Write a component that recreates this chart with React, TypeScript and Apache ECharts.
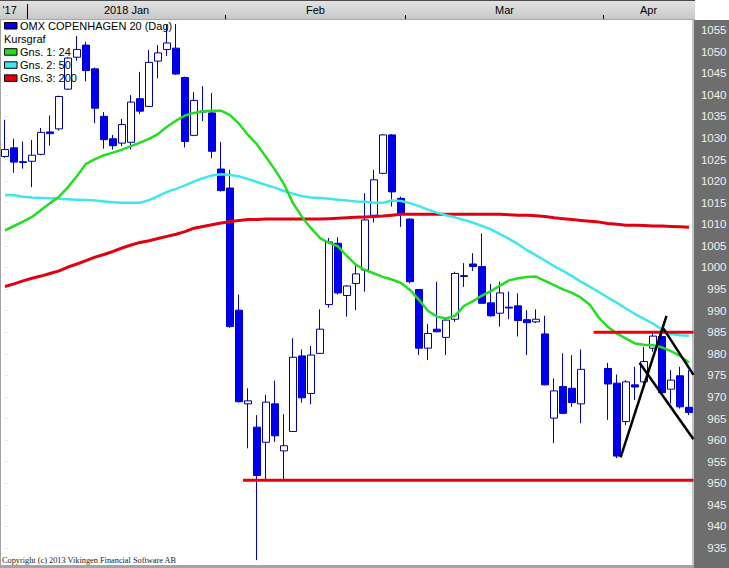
import React, { useEffect, useRef } from 'react';
import * as echarts from 'echarts';

const dates = [
  '2017-12-27','2017-12-28','2017-12-29',
  '2018-01-02','2018-01-03','2018-01-04','2018-01-05','2018-01-08','2018-01-09','2018-01-10','2018-01-11','2018-01-12',
  '2018-01-15','2018-01-16','2018-01-17','2018-01-18','2018-01-19','2018-01-22','2018-01-23','2018-01-24','2018-01-25',
  '2018-01-26','2018-01-29','2018-01-30','2018-01-31',
  '2018-02-01','2018-02-02','2018-02-05','2018-02-06','2018-02-07','2018-02-08','2018-02-09','2018-02-12','2018-02-13',
  '2018-02-14','2018-02-15','2018-02-16','2018-02-19','2018-02-20','2018-02-21','2018-02-22','2018-02-23','2018-02-26',
  '2018-02-27','2018-02-28',
  '2018-03-01','2018-03-02','2018-03-05','2018-03-06','2018-03-07','2018-03-08','2018-03-09','2018-03-12','2018-03-13',
  '2018-03-14','2018-03-15','2018-03-16','2018-03-19','2018-03-20','2018-03-21','2018-03-22','2018-03-23','2018-03-26',
  '2018-03-27','2018-03-28','2018-03-29','2018-03-30',
  '2018-04-03','2018-04-04','2018-04-05','2018-04-06','2018-04-09','2018-04-10','2018-04-11','2018-04-12','2018-04-13',
  '2018-04-16',
];

const opens = [
  1025.7, 1027.7, 1024.5, 1024.6, 1026.2, 1031.4, 1032.1, 1041.3, 1048.7, 1051.5,
  1046.0, 1035.0, 1029.8, 1028.8, 1029.0, 1039.1, 1037.3, 1047.8, 1050.5, 1050.8,
  1044.0, 1030.6, 1036.2, 1035.8, 1022.8, 1018.4, 990.1, 968.4, 963.0, 959.5,
  968.4, 957.5, 962.0, 979.5, 970.8, 980.1, 991.4, 1005.6, 993.5, 996.3,
  999.4, 1012.1, 1021.8, 1030.7, 1016.0, 1011.2, 994.9, 981.3, 985.7, 983.8,
  988.0, 997.9, 1000.8, 1000.2, 991.8, 989.4, 990.8, 991.1, 987.9, 987.4,
  984.6, 965.1, 972.4, 972.0, 968.4, null, null, 976.6, 973.2, 964.3,
  972.8, 973.5, 981.3, 984.0, 971.8, 974.9, 967.6,
];
const closes = [
  1027.3, 1024.4, 1024.3, 1026.0, 1031.3, 1031.0, 1039.6, 1048.5, 1050.5, 1045.6,
  1036.9, 1029.6, 1028.2, 1033.1, 1038.3, 1036.2, 1047.5, 1049.7, 1052.0, 1044.8,
  1029.2, 1038.7, 1036.0, 1026.9, 1017.8, 986.3, 968.9, 969.1, 951.8, 968.8,
  961.0, 958.7, 979.2, 969.8, 979.7, 985.7, 1005.9, 994.1, 995.7, 998.5,
  1011.0, 1020.3, 1030.7, 1017.5, 1012.5, 996.7, 981.3, 984.7, 985.1, 987.8,
  998.6, 998.1, 1000.2, 991.7, 988.8, 994.1, 990.6, 987.7, 987.2, 988.0,
  972.8, 971.4, 966.2, 968.7, 976.4, null, null, 973.0, 956.3, 973.5,
  972.3, 978.2, 984.1, 971.0, 973.9, 967.7, 966.4,
];
const lows = [
  1025.4, 1021.9, 1022.9, 1018.6, 1026.0, 1028.2, 1031.7, 1041.1, 1047.9, 1043.1,
  1033.4, 1027.5, 1027.3, 1028.1, 1027.3, 1035.5, 1037.2, 1043.8, 1049.0, 1044.6,
  1027.8, 1030.4, 1033.9, 1025.3, 1017.6, 986.0, 968.7, 958.1, 932.2, 950.8,
  959.6, 950.8, 962.0, 968.7, 968.3, 980.0, 990.7, 993.7, 988.6, 990.1,
  994.4, 1010.4, 1021.6, 1014.1, 1009.4, 996.3, 979.7, 978.6, 985.0, 979.7,
  987.4, 995.5, 999.2, 991.6, 988.6, 986.3, 988.0, 984.0, 979.7, 987.1,
  972.7, 959.3, 966.0, 967.7, 963.9, null, null, 964.7, 955.8, 963.5,
  969.3, 972.4, 980.5, 970.5, 968.5, 967.3, 965.8,
];
const highs = [
  1034.2, 1029.8, 1029.2, 1029.5, 1032.3, 1035.2, 1039.8, 1048.7, 1053.6, 1052.3,
  1046.3, 1036.0, 1030.7, 1034.4, 1039.9, 1045.3, 1050.4, 1051.5, 1056.2, 1056.4,
  1044.2, 1040.6, 1042.0, 1040.4, 1029.1, 1022.6, 993.7, 972.0, 965.8, 970.5,
  973.8, 966.0, 983.6, 981.0, 981.8, 990.3, 1006.8, 1007.0, 995.9, 1000.6,
  1017.2, 1022.6, 1030.9, 1030.9, 1016.4, 1011.4, 995.0, 986.9, 996.7, 988.0,
  999.0, 1001.0, 1003.3, 1007.9, 996.2, 996.7, 994.4, 994.0, 990.1, 990.3,
  988.8, 974.3, 980.1, 979.7, 981.0, null, null, 977.9, 975.2, 973.9,
  977.0, 981.6, 984.8, 985.5, 976.2, 977.0, 976.2,
];

const ma24 = [
  1008.6, 1009.6, 1010.6, 1011.7, 1013.3, 1014.9, 1016.4, 1018.6, 1021.2, 1024.0,
  1025.1, 1026.0, 1026.6, 1027.3, 1028.1, 1028.9, 1029.8, 1030.9, 1032.6, 1034.0,
  1035.2, 1035.8, 1036.2, 1036.3, 1036.3, 1035.3, 1033.3, 1030.7, 1028.5, 1025.6,
  1022.6, 1019.3, 1014.9, 1011.7, 1009.1, 1006.8, 1005.7, 1004.9, 1002.6, 1000.6,
  999.4, 998.6, 997.8, 997.2, 996.4, 994.8, 992.5, 989.9, 988.6, 988.2,
  988.8, 991.1, 992.2, 993.5, 994.5, 995.8, 997.0, 997.5, 997.8, 997.9,
  996.9, 995.9, 994.9, 994.1, 993.0, 991.3, 988.3, 986.2, 984.7, 983.5,
  982.4, 982.1, 982.0, 981.5, 980.6, 979.5, 978.0,
];
const ma50 = [
  1016.8, 1016.7, 1016.4, 1016.2, 1016.1, 1016.0, 1015.9, 1015.8, 1015.7, 1015.6,
  1015.5, 1015.3, 1015.1, 1015.0, 1015.0, 1015.0, 1015.6, 1016.5, 1017.5, 1018.2,
  1019.0, 1019.9, 1020.7, 1021.3, 1021.6, 1021.4, 1021.1, 1020.5, 1019.8, 1019.1,
  1018.5, 1017.7, 1017.1, 1016.5, 1016.2, 1016.1, 1015.9, 1015.7, 1015.5, 1015.3,
  1015.2, 1015.0, 1015.0, 1015.5, 1015.4, 1014.9, 1014.2, 1013.4, 1012.7, 1012.1,
  1011.6, 1011.0, 1010.4, 1009.6, 1008.8, 1007.7, 1006.6, 1005.4, 1004.0, 1002.8,
  1001.6, 1000.3, 999.2, 998.0, 996.7, 995.5, 994.3, 993.0, 991.8, 990.5,
  989.2, 988.1, 987.0, 985.6, 984.6, 984.3, 984.2,
];
const ma200 = [
  995.6, 996.2, 996.9, 997.5, 998.0, 998.6, 999.2, 1000.1, 1000.8, 1001.6,
  1002.4, 1003.0, 1003.7, 1004.5, 1005.2, 1005.8, 1006.2, 1006.7, 1007.2, 1007.7,
  1008.3, 1009.1, 1009.5, 1009.9, 1010.3, 1010.6, 1010.9, 1011.1, 1011.1, 1011.2,
  1011.2, 1011.2, 1011.2, 1011.2, 1011.2, 1011.2, 1011.3, 1011.4, 1011.5, 1011.6,
  1011.7, 1011.8, 1011.9, 1012.1, 1012.3, 1012.3, 1012.3, 1012.3, 1012.3, 1012.3,
  1012.3, 1012.3, 1012.3, 1012.3, 1012.3, 1012.3, 1012.2, 1012.1, 1012.1, 1012.0,
  1011.8, 1011.5, 1011.3, 1011.1, 1010.9, 1010.7, 1010.5, 1010.2, 1010.0, 1009.8,
  1009.8, 1009.7, 1009.6, 1009.6, 1009.5, 1009.4, 1009.3,
];

// drawn lines, in [date index, value] space
const supportLine = [[26.45, 950.7], [76.5, 950.7]];
const resistanceLine = [[65.4, 985.0], [76.5, 985.0]];
const trendA = [[68.4, 956.0], [73.5, 988.8]];
const trendB = [[70.5, 977.9], [76.5, 960.2]];
const trendC = [[73.15, 985.9], [76.5, 975.1]];

const yTicks = [935, 940, 945, 950, 955, 960, 965, 970, 975, 980, 985, 990, 995, 1000,
  1005, 1010, 1015, 1020, 1025, 1030, 1035, 1040, 1045, 1050, 1055];

const monthLabels = ["'17", '2018 Jan', 'Feb', 'Mar', 'Apr'];
const monthStarts = ['2017-12-27', '2018-01-02', '2018-02-01', '2018-03-01', '2018-04-03'];

const legendItems = [
  { name: 'OMX COPENHAGEN 20 (Dag)', color: '#0000f0' },
  { name: 'Kursgraf', color: null },
  { name: 'Gns. 1: 24', color: '#22dd22' },
  { name: 'Gns. 2: 50', color: '#40e6ee' },
  { name: 'Gns. 3: 200', color: '#e00010' },
];

const FONT = '"Liberation Sans", Arial, sans-serif';

export default function App() {
  const ref = useRef<HTMLDivElement>(null);
  useEffect(() => {
    if (!ref.current) return;
    const chart = echarts.init(ref.current, null, { renderer: 'svg' });
    const candleData = opens.map((o, i) =>
      o == null ? ['-', '-', '-', '-'] : [o, closes[i], lows[i], highs[i]]
    );
    const n = dates.length;
    const option: any = {
      animation: false,
      backgroundColor: '#ffffff',
      grid: { left: 0.5, right: 35.5, top: 20, bottom: 3, containLabel: false, outerBoundsMode: 'none' },
      xAxis: [
        { type: 'category', data: dates, boundaryGap: true, show: false },
        { type: 'value', min: -0.5, max: n - 0.5, show: false },
      ],
      yAxis: {
        type: 'value', position: 'right', min: 931.07, max: 1057.32, z: 10,
        axisLine: { show: false },
        splitLine: { show: false },
        axisTick: { show: true, length: 3, customValues: yTicks, lineStyle: { color: '#e6e6e6' } },
        axisLabel: {
          customValues: yTicks, color: '#f0f0f0', fontSize: 11.5, fontFamily: FONT, align: 'right', margin: 33,
          formatter: (v: number) => String(Math.round(v)),
        },
      },
      series: [
        {
          name: 'OMX COPENHAGEN 20 (Dag)', type: 'candlestick', data: candleData, barWidth: 7, z: 2,
          itemStyle: { color: '#ffffff', color0: '#0000f0', borderColor: '#0000a8', borderColor0: '#0000c8', borderWidth: 1 },
        },
        { name: 'Gns. 3: 200', type: 'line', data: ma200, symbol: 'none', z: 3, lineStyle: { color: '#e00010', width: 3 } },
        { name: 'Gns. 2: 50', type: 'line', data: ma50, symbol: 'none', z: 3, lineStyle: { color: '#40e6ee', width: 2.5 } },
        { name: 'Gns. 1: 24', type: 'line', data: ma24, symbol: 'none', z: 3, lineStyle: { color: '#22dd22', width: 2.5 } },
        { type: 'line', xAxisIndex: 1, data: supportLine, symbol: 'none', z: 4, lineStyle: { color: '#e8000b', width: 3 } },
        { type: 'line', xAxisIndex: 1, data: resistanceLine, symbol: 'none', z: 4, lineStyle: { color: '#e8000b', width: 3 } },
        { type: 'line', xAxisIndex: 1, data: trendA, symbol: 'none', z: 5, lineStyle: { color: '#000000', width: 2.5 } },
        { type: 'line', xAxisIndex: 1, data: trendB, symbol: 'none', z: 5, lineStyle: { color: '#000000', width: 2.5 } },
        { type: 'line', xAxisIndex: 1, data: trendC, symbol: 'none', z: 5, lineStyle: { color: '#000000', width: 2.5 } },
      ],
    };
    chart.setOption(option);

    const px = (v: number) => chart.convertToPixel({ xAxisIndex: 1 }, v) as number;
    const leftPx = px(-0.5);
    const rightPx = px(n - 0.5);
    const els: any[] = [];
    // right axis panel
    els.push({ type: 'rect', z: -10, shape: { x: rightPx + 0.5, y: 20, width: 729 - rightPx, height: 548 }, style: { fill: '#6e6e6e' } });
    els.push({ type: 'rect', z: -9, shape: { x: rightPx - 1.5, y: 20, width: 2, height: 548 }, style: { fill: '#c4c4c4' } });
    // header
    els.push({
      type: 'rect', z: -10, shape: { x: 0, y: 0, width: rightPx + 1.5, height: 20 },
      style: { fill: new echarts.graphic.LinearGradient(0, 0, 0, 1, [{ offset: 0, color: '#e4e4e4' }, { offset: 1, color: '#c6c6c6' }]) },
    });
    els.push({ type: 'rect', z: -9, shape: { x: 0, y: 0, width: rightPx + 1.5, height: 1 }, style: { fill: '#4a4a4a' } });
    els.push({ type: 'rect', z: -9, shape: { x: 0, y: 19, width: rightPx + 1.5, height: 1 }, style: { fill: '#a8a8a8' } });
    // left & bottom border
    els.push({ type: 'rect', z: 20, shape: { x: 0, y: 20, width: 1, height: 548 }, style: { fill: '#a0a0a0' } });
    els.push({ type: 'rect', z: 20, shape: { x: 0, y: 565, width: rightPx + 0.5, height: 3 }, style: { fill: '#a4a4a4' } });

    const startIdx = monthStarts.map((d) => dates.indexOf(d));
    const bounds = startIdx.map((s) => px(s - 0.5));
    bounds.push(rightPx);
    monthLabels.forEach((lab, k) => {
      const first = k === 0;
      els.push({
        type: 'text', z: 30,
        x: first ? leftPx + 2 : (bounds[k] + bounds[k + 1]) / 2,
        y: 10,
        style: { text: lab, fill: '#000', fontSize: 11, fontFamily: FONT, textAlign: first ? 'left' : 'center', textVerticalAlign: 'middle' },
      });
      if (!first) {
        const yearStart = lab.indexOf('20') === 0;
        els.push({
          type: 'line', z: 30,
          shape: { x1: bounds[k], y1: yearStart ? 4 : 15, x2: bounds[k], y2: 19 },
          style: { stroke: '#000', lineWidth: 1 },
        });
      }
    });
    // legend
    legendItems.forEach((it, k) => {
      const cy = 26 + k * 13.1;
      if (it.color) {
        els.push({ type: 'rect', z: 30, shape: { x: 4.5, y: cy - 3.5, width: 12.5, height: 6.5 }, style: { fill: it.color, stroke: '#000', lineWidth: 1 } });
      }
      els.push({
        type: 'text', z: 30, x: it.color ? 20 : 4, y: cy,
        style: { text: it.name, fill: '#000', fontSize: 11, fontFamily: FONT, textVerticalAlign: 'middle' },
      });
    });
    els.push({
      type: 'text', z: 30, x: 2, y: 560.5,
      style: { text: 'Copyright (c) 2013 Vikingen Financial Software AB', fill: '#222', fontSize: 8.3, fontFamily: '"Liberation Serif", "Times New Roman", serif', textVerticalAlign: 'middle' },
    });
    chart.setOption({ graphic: { elements: els } });

    return () => chart.dispose();
  }, []);
  return <div ref={ref} style={{ position: 'fixed', left: 0, top: 0, width: 729, height: 568 }} />;
}
